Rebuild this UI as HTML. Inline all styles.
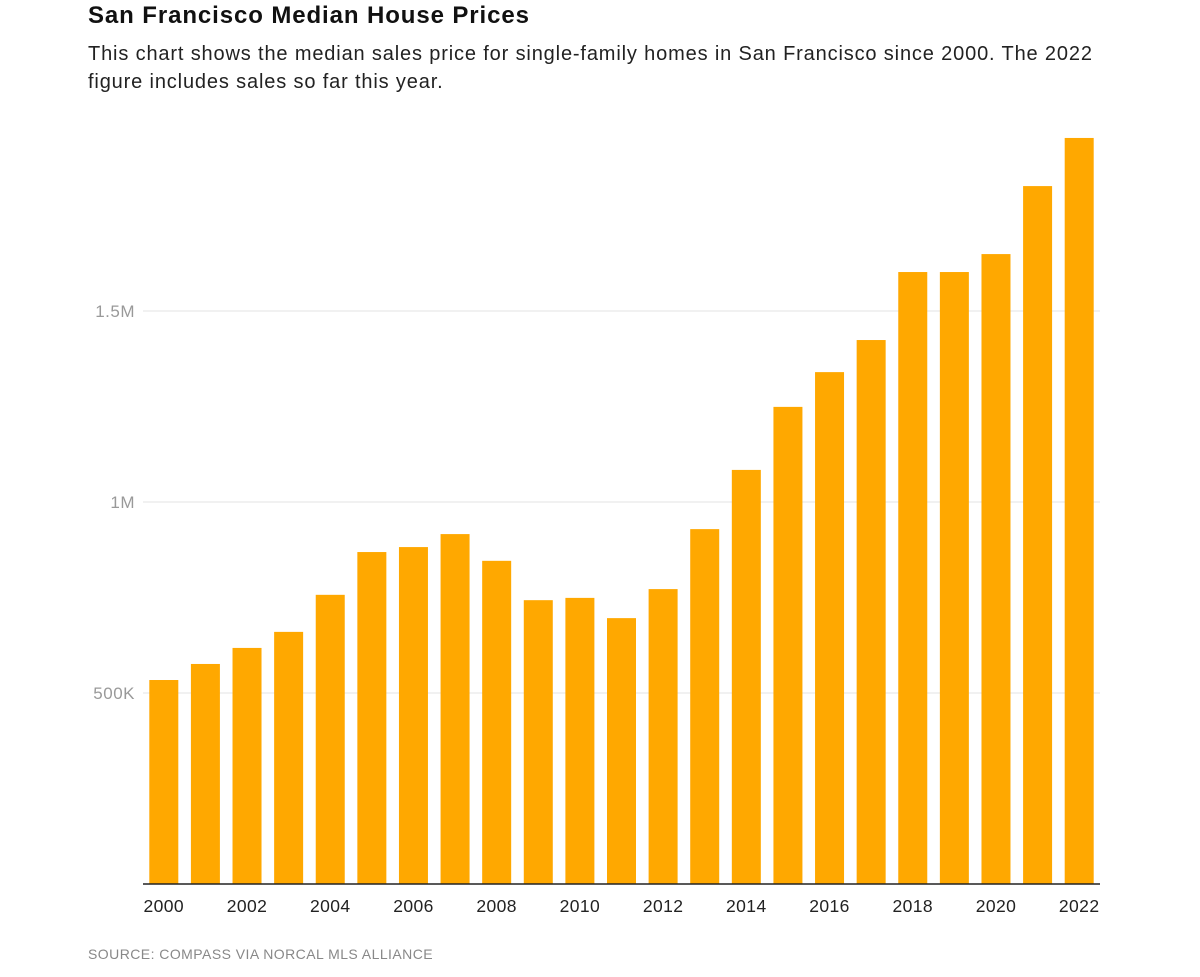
<!DOCTYPE html>
<html><head><meta charset="utf-8"><style>
body{margin:0;background:#fff;font-family:"Liberation Sans",sans-serif;width:1200px;height:977px;overflow:hidden;position:relative}
h1{position:absolute;left:88px;top:2px;margin:0;font-size:24px;font-weight:bold;color:#111;letter-spacing:0.9px}
p.sub{position:absolute;left:88px;top:40px;margin:0;font-size:20px;line-height:28px;color:#222;width:1035px;letter-spacing:0.85px}
.src{position:absolute;left:88px;top:946px;font-size:14px;color:#888;letter-spacing:0.45px}
svg{position:absolute;left:0;top:0}
</style></head><body>
<h1>San Francisco Median House Prices</h1>
<p class="sub">This chart shows the median sales price for single-family homes in San Francisco since 2000. The 2022 figure includes sales so far this year.</p>
<svg id="c" width="1200" height="977"></svg>
<div class="src">SOURCE: COMPASS VIA NORCAL MLS ALLIANCE</div>
<script>
const years=[2000,2001,2002,2003,2004,2005,2006,2007,2008,2009,2010,2011,2012,2013,2014,2015,2016,2017,2018,2019,2020,2021,2022];
const prices=[534,576,618,660,757,869,882,916,846,743,749,696,772,929,1084,1249,1340,1424,1602,1602,1649,1827,1953];
const yTicks=[500,1000,1500];
const yTickLabels=["500K","1M","1.5M"];
const NS="http://www.w3.org/2000/svg";
const svg=document.getElementById('c');
const x0=143,x1=1100,yBase=884,kPerPx=0.382;
const step=(x1-x0)/years.length,bw=29,off=(step-bw)/2;
function y(v){return yBase-v*kPerPx;}
function x(i){return x0+i*step+off;}
function mk(t,a){const e=document.createElementNS(NS,t);for(const k in a)e.setAttribute(k,a[k]);svg.appendChild(e);return e;}
yTicks.forEach((v,i)=>{
 const g=mk('line',{x1:x0,x2:x1,y1:y(v),y2:y(v),stroke:'#e3e3e3','stroke-width':1});
 
 
 const t=mk('text',{x:135,y:y(v)+6,'text-anchor':'end','font-size':17,fill:'#999','letter-spacing':'0.5','font-family':'Liberation Sans, sans-serif'});
 t.textContent=yTickLabels[i];
 
 
});
years.forEach((yr,i)=>{
 const r=mk('rect',{x:x(i),y:y(prices[i]),width:bw,height:yBase-y(prices[i]),fill:'#ffa800'});
 
 
 if(i%2===0){
  const t=mk('text',{x:x(i)+bw/2,y:912,'text-anchor':'middle','font-size':17.5,fill:'#222','letter-spacing':'0.4','font-family':'Liberation Sans, sans-serif'});
  t.textContent=yr;
  
  
 }
});
const ax=mk('line',{x1:x0,x2:x1,y1:yBase,y2:yBase,stroke:'#222','stroke-width':1.5});


</script>
</body></html>
